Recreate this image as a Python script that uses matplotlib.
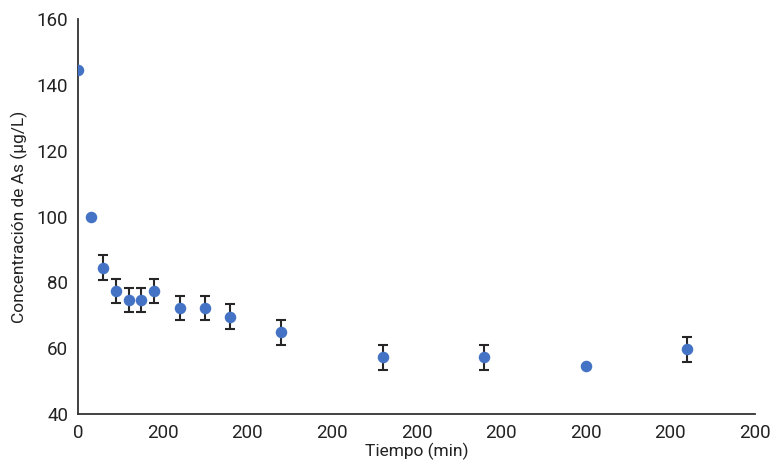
import matplotlib.pyplot as plt

plt.rcParams['font.family'] = ['Roboto', 'DejaVu Sans']

tiempo = [0, 15, 30, 45, 60, 75, 90, 120, 150, 180, 240, 360, 480, 600, 720]
conc = [144.5, 100, 84.5, 77.3, 74.7, 74.7, 77.3, 72.2, 72.2, 69.6, 64.8, 57.3, 57.3, 54.5, 59.7]
err = [0, 0, 3.7, 3.7, 3.7, 3.7, 3.7, 3.7, 3.7, 3.7, 3.7, 3.8, 3.8, 0, 3.8]

xticks = [0, 100, 200, 300, 400, 500, 600, 700, 800]
xlabels = ['0', '200', '200', '200', '200', '200', '200', '200', '200']
yticks = [40, 60, 80, 100, 120, 140, 160]

fig = plt.figure(figsize=(7.71, 4.66), dpi=100)
ax = fig.add_axes([0.1012, 0.1116, 0.8780, 0.8476])

ax.errorbar(tiempo, conc, yerr=err, fmt='none', ecolor='#262626',
            elinewidth=1.5, capsize=3.5, capthick=1.5, zorder=2)
ax.plot(tiempo, conc, 'o', color='#4472C4', markersize=8.3, markeredgewidth=0, zorder=3)

ax.set_xlim(0, 800)
ax.set_ylim(40, 160)
ax.set_xticks(xticks)
ax.set_xticklabels(xlabels)
ax.set_yticks(yticks)
ax.tick_params(length=0, labelsize=13.5, colors='#222222', pad=7)

for s in ['top', 'right']:
    ax.spines[s].set_visible(False)
for s in ['left', 'bottom']:
    ax.spines[s].set_color('#333333')
    ax.spines[s].set_linewidth(1.3)

ax.set_xlabel('Tiempo (min)', fontsize=12.5, color='#222222', labelpad=1)
ax.set_ylabel('Concentración de As (µg/L)', fontsize=12.5, color='#222222', labelpad=6)

fig.savefig('out.png', dpi=100)
